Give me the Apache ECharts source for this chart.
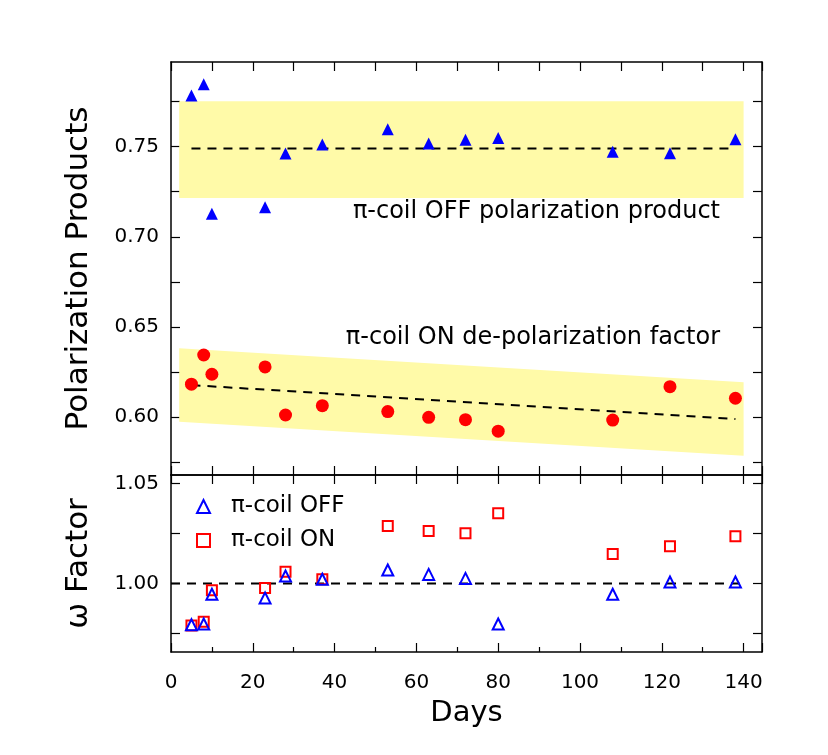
<!DOCTYPE html>
<html>
<head>
<meta charset="utf-8">
<script src="https://cdn.jsdelivr.net/npm/echarts@6/dist/echarts.min.js"></script>
<style>
  html, body { margin: 0; padding: 0; background: #fff; }
  #chart { width: 828px; height: 755px; }
</style>
</head>
<body>
<div id="chart"></div>
<script>
const days       = [5, 8, 10, 23, 28, 37, 53, 63, 72, 80, 108, 122, 138];
const offProduct = [0.7784, 0.7847, 0.7128, 0.7164, 0.7462, 0.7512, 0.7597, 0.7518, 0.7539, 0.7548, 0.7472, 0.7464, 0.7541];
const onFactor   = [0.6182, 0.6344, 0.6237, 0.6278, 0.6011, 0.6063, 0.6030, 0.5998, 0.5985, 0.5921, 0.5983, 0.6168, 0.6104];
const omegaOff   = [0.9793, 0.9797, 0.9946, 0.9927, 1.0037, 1.0021, 1.0067, 1.0045, 1.0025, 0.9797, 0.9946, 1.0007, 1.0007];
const omegaOn    = [0.9789, 0.9808, 0.9966, 0.9977, 1.0058, 1.0021, 1.0287, 1.0262, 1.0251, 1.0351, 1.0147, 1.0186, 1.0236];

// fitted lines and their error bands: [day, low, high]
const offFit  = [[5, 0.749], [138, 0.749]];
const onFit   = [[5, 0.6177], [138, 0.5989]];
const unity   = [[0, 1.0], [139, 1.0]];
const offBand = [[2, 0.7215, 0.7752], [140, 0.7215, 0.7752]];
const onBand  = [[2, 0.5974, 0.6382], [140, 0.5785, 0.6193]];

const topTicks    = [0.575, 0.6, 0.625, 0.65, 0.675, 0.7, 0.725, 0.75, 0.775];
const topLabels   = [0.6, 0.65, 0.7, 0.75];
const omegaTicks  = [0.975, 1.0, 1.025, 1.05];
const omegaLabels = [1.0, 1.05];

const FONT = 'DejaVu Sans, Verdana, sans-serif';
const YELLOW = '#fffaa8';

const chart = echarts.init(document.getElementById('chart'), null, { renderer: 'canvas' });

function band(rows) {
  return (params, api) => {
    const i = params.dataIndex;
    if (i >= rows.length - 1) return { type: 'group', children: [] };
    const a = rows[i], b = rows[i + 1];
    return {
      type: 'polygon',
      shape: { points: [api.coord([a[0], a[2]]), api.coord([b[0], b[2]]), api.coord([b[0], b[1]]), api.coord([a[0], a[1]])] },
      style: { fill: YELLOW },
    };
  };
}

const line = { lineStyle: { color: '#000', width: 1.5 }, onZero: false };

function xAx(grid, pos, extra) {
  return Object.assign({
    type: 'value', gridIndex: grid, position: pos, min: 0, max: 144.5, interval: 20,
    axisLine: line,
    axisTick: { inside: true, length: 9, lineStyle: { color: '#000', width: 1.2 } },
    minorTick: { show: true, splitNumber: 2, length: 9, lineStyle: { color: '#000', width: 1.2 } },
    axisLabel: { show: false },
    splitLine: { show: false },
  }, extra);
}

function yAx(grid, pos, min, max, ticks, labels, extra) {
  return Object.assign({
    type: 'value', gridIndex: grid, position: pos, min: min, max: max,
    axisLine: line,
    axisTick: { inside: true, length: 9, customValues: ticks, lineStyle: { color: '#000', width: 1.2 } },
    axisLabel: labels ? {
      customValues: labels, fontSize: 20, fontFamily: FONT, color: '#000', margin: 12,
      formatter: (v) => v.toFixed(2),
    } : { show: false },
    splitLine: { show: false },
  }, extra);
}

const yName = (text, gap) => ({
  name: text, nameLocation: 'middle', nameGap: gap,
  nameTextStyle: { fontSize: 31, fontFamily: FONT, color: '#000' },
});

const txt = (text, x, y) => ({
  type: 'text', x: x, y: y,
  style: { text: text, align: 'right', verticalAlign: 'middle', fontSize: 24, fontFamily: FONT, fill: '#000' },
});

chart.setOption({
  backgroundColor: '#fff',
  animation: false,
  grid: [
    { left: 171, top: 62, width: 591, height: 413 },
    { left: 171, top: 475, width: 591, height: 177 },
  ],
  legend: {
    data: ['π-coil OFF', 'π-coil ON'],
    orient: 'vertical', left: 191, top: 490, itemGap: 11,
    itemWidth: 13, itemHeight: 13,
    textStyle: { fontSize: 23, fontFamily: FONT, color: '#000', padding: [0, 0, 0, 16] },
  },
  xAxis: [
    xAx(0, 'bottom'),
    xAx(0, 'top'),
    xAx(1, 'bottom', {
      minorTick: { show: true, splitNumber: 2, length: 5, lineStyle: { color: '#000', width: 1.2 } },
      axisLabel: { show: true, showMaxLabel: false, fontSize: 20, fontFamily: FONT, color: '#000', margin: 21 },
      name: 'Days', nameLocation: 'middle', nameGap: 47,
      nameTextStyle: { fontSize: 29, fontFamily: FONT, color: '#000' },
    }),
    xAx(1, 'top'),
  ],
  yAxis: [
    yAx(0, 'left', 0.5678, 0.797, topTicks, topLabels, yName('Polarization Products', 77)),
    yAx(0, 'right', 0.5678, 0.797, topTicks, null),
    yAx(1, 'left', 0.9657, 1.0542, omegaTicks, omegaLabels, yName('ω Factor', 77)),
    yAx(1, 'right', 0.9657, 1.0542, omegaTicks, null),
  ],
  graphic: [
    txt('π-coil OFF polarization product', 720, 212),
    txt('π-coil ON de-polarization factor', 720, 338),
  ],
  series: [
    { type: 'custom', xAxisIndex: 0, yAxisIndex: 0, data: offBand, renderItem: band(offBand), silent: true, z: 1, encode: { x: 0, y: [1, 2] } },
    { type: 'custom', xAxisIndex: 0, yAxisIndex: 0, data: onBand, renderItem: band(onBand), silent: true, z: 1, encode: { x: 0, y: [1, 2] } },
    { type: 'line', xAxisIndex: 0, yAxisIndex: 0, data: offFit, symbol: 'none', silent: true, z: 2,
      lineStyle: { color: '#000', width: 2, type: [9, 7] } },
    { type: 'line', xAxisIndex: 0, yAxisIndex: 0, data: onFit, symbol: 'none', silent: true, z: 2,
      lineStyle: { color: '#000', width: 2, type: [9, 7] } },
    { name: 'off product', type: 'scatter', xAxisIndex: 0, yAxisIndex: 0, z: 3,
      data: days.map((d, i) => [d, offProduct[i]]), symbol: 'triangle', symbolSize: 12,
      itemStyle: { color: '#0000ff', opacity: 1 } },
    { name: 'on factor', type: 'scatter', xAxisIndex: 0, yAxisIndex: 0, z: 3,
      data: days.map((d, i) => [d, onFactor[i]]), symbol: 'circle', symbolSize: 13,
      itemStyle: { color: '#ff0000', opacity: 1 } },
    { type: 'line', xAxisIndex: 2, yAxisIndex: 2, data: unity, symbol: 'none', silent: true, z: 2,
      lineStyle: { color: '#000', width: 2, type: [9, 7] } },
    { name: 'π-coil ON', type: 'scatter', xAxisIndex: 2, yAxisIndex: 2, z: 3,
      data: days.map((d, i) => [d, omegaOn[i]]), symbol: 'rect', symbolSize: 10,
      itemStyle: { color: 'rgba(0,0,0,0)', borderColor: '#ff0000', borderWidth: 2, opacity: 1 } },
    { name: 'π-coil OFF', type: 'scatter', xAxisIndex: 2, yAxisIndex: 2, z: 3,
      data: days.map((d, i) => [d, omegaOff[i]]), symbol: 'triangle', symbolSize: 11,
      itemStyle: { color: 'rgba(0,0,0,0)', borderColor: '#0000ff', borderWidth: 2, opacity: 1 } },
  ],
});
</script>
</body>
</html>
